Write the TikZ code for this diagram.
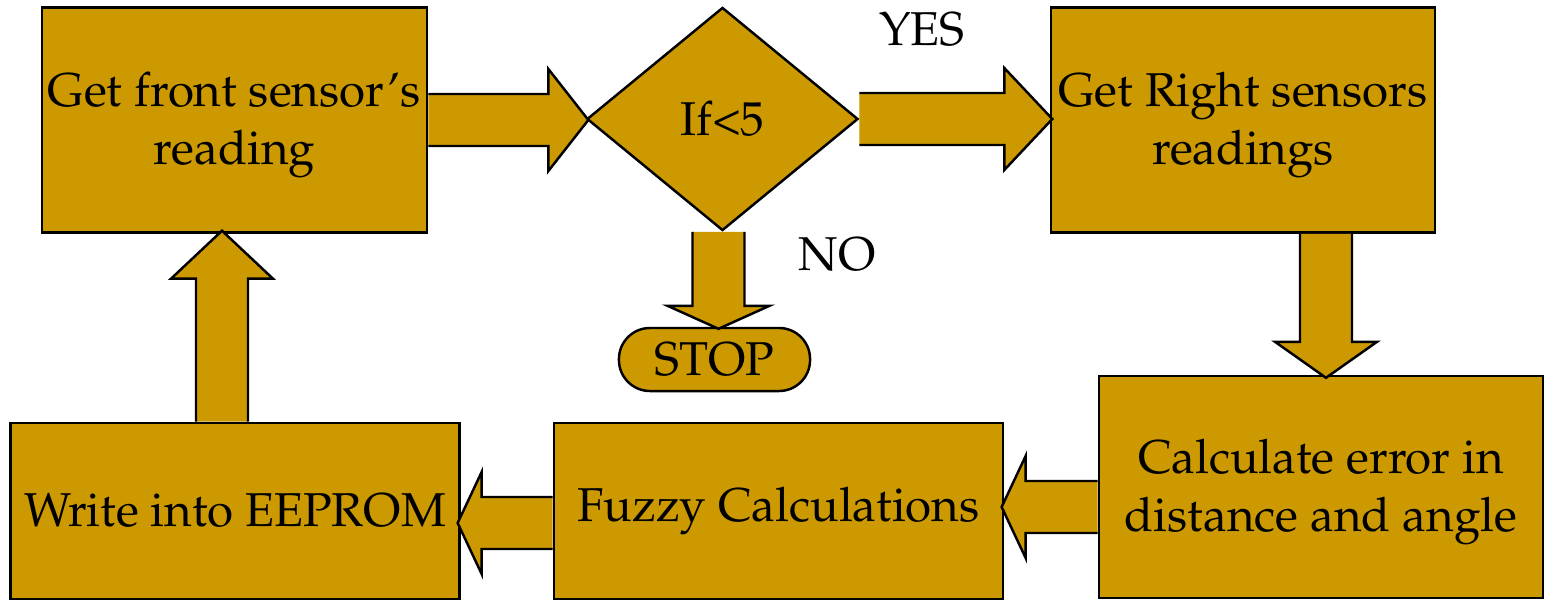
\documentclass[tikz,border=0pt]{standalone}
\IfFileExists{mathpazo.sty}{%
  \usepackage[T1]{fontenc}\usepackage{mathpazo}}{%
  \usepackage{fontspec}\setmainfont{Liberation Serif}}
\usepackage{tikz}
\usetikzlibrary{shapes.geometric,calc}

\definecolor{boxgold}{HTML}{CC9900}
\newcommand{\flowfont}{\fontsize{13.5}{16.5}\selectfont}
\newcommand{\topstrut}{\rule{0pt}{0.44cm}}

\tikzset{
  block/.style={draw=black, fill=boxgold, line width=0.7pt, align=center, inner sep=0pt, font=\flowfont},
  decide/.style={block, diamond},
  term/.style={block, rounded corners=0.31cm},
  fatarr/.style={draw=black, fill=boxgold, line width=0.7pt, line join=miter},
  lbl/.style={font=\flowfont}
}

% block arrow: start point, direction, length, head length
\newcommand{\fatarrow}[4]{%
  \draw[fatarr, shift={(#1)}, rotate=#2]
    (0,26) -- ({#3-#4},26) -- ({#3-#4},51) -- (#3,0) -- ({#3-#4},-51) -- ({#3-#4},-26) -- (0,-26);
}

\begin{document}
\begin{tikzpicture}[x=0.01cm, y=-0.01cm]
\useasboundingbox (0,0) rectangle (1545,600);

\node[block, minimum width=3.85cm, minimum height=2.25cm] (front) at (234.5,120) {\topstrut Get front sensor's\\reading};
\node[decide, minimum width=2.71cm, minimum height=2.23cm] (cond) at (722.5,119) {If<5};
\node[block, minimum width=3.84cm, minimum height=2.25cm] (right) at (1243,120) {\topstrut Get Right sensors\\readings};
\node[term, minimum width=1.91cm, minimum height=0.63cm] (stop) at (714.5,359.5) {STOP};
\node[block, minimum width=4.44cm, minimum height=2.22cm] (calc) at (1321,487) {\topstrut Calculate error in\\distance and angle};
\node[block, minimum width=4.49cm, minimum height=1.76cm] (fuzzy) at (778.5,511) {Fuzzy Calculations};
\node[block, minimum width=4.49cm, minimum height=1.76cm] (write) at (235,511) {Write into EEPROM};

\node[lbl] (yes) at (922,30) {YES};
\node[lbl] (no) at (837,255) {NO};

\fatarrow{front.east}{0}{160}{40}
\fatarrow{cond.east}{0}{193}{48}
\fatarrow{$(cond.south)+(-4,0)$}{-90}{97}{23}
\fatarrow{$(right.south -| calc.north)+(5,0)$}{-90}{144}{36}
\fatarrow{$(calc.west)+(0,20)$}{180}{96}{24}
\fatarrow{$(fuzzy.west)+(0,12)$}{180}{95}{24}
\fatarrow{$(write.north)+(-13,0)$}{90}{191}{48}
\end{tikzpicture}
\end{document}
